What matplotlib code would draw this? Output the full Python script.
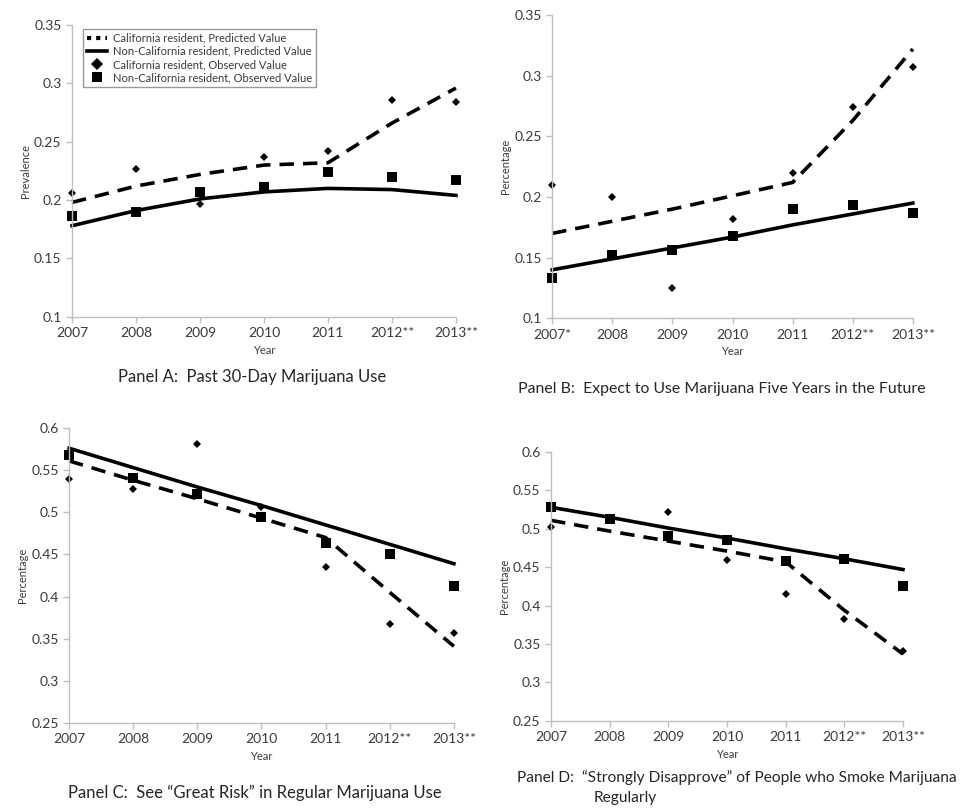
import numpy as np
import matplotlib.pyplot as plt
from matplotlib.lines import Line2D

plt.rcParams['font.family'] = ['Lato', 'DejaVu Sans']

years = ["2007", "2008", "2009", "2010", "2011", "2012**", "2013**"]
years_b = ["2007*", "2008", "2009", "2010", "2011", "2012**", "2013**"]

# Panel A: past 30-day use
a_ca_obs = [0.206, 0.227, 0.197, 0.237, 0.242, 0.286, 0.284]
a_non_obs = [0.186, 0.190, 0.207, 0.211, 0.224, 0.220, 0.217]
a_ca_pred = [0.198, 0.212, 0.222, 0.230, 0.232, 0.266, 0.296]
a_non_pred = [0.178, 0.191, 0.201, 0.207, 0.210, 0.209, 0.204]

# Panel B: expect to use in five years
b_ca_obs = [0.210, 0.200, 0.125, 0.182, 0.220, 0.274, 0.307]
b_non_obs = [0.133, 0.152, 0.156, 0.168, 0.190, 0.193, 0.187]
b_ca_pred = [0.170, 0.180, 0.190, 0.201, 0.212, 0.263, 0.322]
b_non_pred = [0.140, 0.149, 0.158, 0.167, 0.177, 0.186, 0.195]

# Panel C: great risk
c_ca_obs = [0.539, 0.528, 0.581, 0.506, 0.435, 0.368, 0.357]
c_non_obs = [0.568, 0.541, 0.522, 0.494, 0.463, 0.451, 0.412]
c_ca_pred = [0.561, 0.538, 0.516, 0.493, 0.470, 0.405, 0.341]
c_non_pred = [0.576, 0.553, 0.530, 0.508, 0.485, 0.462, 0.439]

# Panel D: strongly disapprove
d_ca_obs = [0.502, 0.513, 0.522, 0.460, 0.415, 0.383, 0.341]
d_non_obs = [0.529, 0.513, 0.490, 0.485, 0.458, 0.461, 0.425]
d_ca_pred = [0.511, 0.497, 0.484, 0.471, 0.457, 0.394, 0.337]
d_non_pred = [0.528, 0.515, 0.501, 0.488, 0.474, 0.461, 0.447]

fig = plt.figure(figsize=(9.67, 8.1), dpi=100)

gray = '#bfbfbf'
txt = '#3a3a3a'


def panel(rect, ca_obs, non_obs, ca_pred, non_pred, labels, ylim, yticks, ylabel):
    ax = fig.add_axes(rect)
    x = np.arange(len(labels))
    ax.plot(x, ca_pred, color='black', lw=2.6, dashes=(4, 2.5))
    ax.plot(x, non_pred, color='black', lw=2.6)
    ax.plot(x, ca_obs, 'D', color='black', ms=4.5, mew=0)
    ax.plot(x, non_obs, 's', color='black', ms=6.5, mew=0)
    ax.set_xlim(0, len(labels) - 1)
    ax.set_ylim(*ylim)
    ax.set_xticks(x)
    ax.set_xticklabels(labels)
    ax.set_yticks(yticks)
    ax.set_yticklabels([('%.2f' % v).rstrip('0').rstrip('.') for v in yticks])
    for s in ['top', 'right']:
        ax.spines[s].set_visible(False)
    for s in ['left', 'bottom']:
        ax.spines[s].set_color(gray)
        ax.spines[s].set_linewidth(1.0)
    ax.tick_params(colors=gray, labelcolor=txt, labelsize=10, length=4, width=1)
    ax.set_xlabel('Year', fontsize=8, color=txt, labelpad=4)
    ax.set_ylabel(ylabel, fontsize=8, color=txt, labelpad=2)
    for ln in ax.lines:
        ln.set_clip_on(False)
    return ax


axA = panel([0.0745, 0.609, 0.397, 0.36], a_ca_obs, a_non_obs, a_ca_pred, a_non_pred,
            years, (0.1, 0.35), np.arange(0.1, 0.351, 0.05), 'Prevalence')
axB = panel([0.571, 0.607, 0.373, 0.3745], b_ca_obs, b_non_obs, b_ca_pred, b_non_pred,
            years_b, (0.1, 0.35), np.arange(0.1, 0.351, 0.05), 'Percentage')
axC = panel([0.0714, 0.1074, 0.398, 0.3642], c_ca_obs, c_non_obs, c_ca_pred, c_non_pred,
            years, (0.25, 0.6), np.arange(0.25, 0.601, 0.05), 'Percentage')
axD = panel([0.5698, 0.110, 0.364, 0.332], d_ca_obs, d_non_obs, d_ca_pred, d_non_pred,
            years, (0.25, 0.6), np.arange(0.25, 0.601, 0.05), 'Percentage')

handles = [
    Line2D([], [], color='black', lw=3, dashes=(1, 1.2)),
    Line2D([], [], color='black', lw=2.6),
    Line2D([], [], color='black', marker='D', ls='none', ms=6, mew=0),
    Line2D([], [], color='black', marker='s', ls='none', ms=6.5, mew=0),
]
names = ['California resident, Predicted Value',
         'Non-California resident, Predicted Value',
         'California resident, Observed Value',
         'Non-California resident, Observed Value']
leg = axA.legend(handles, names, loc='upper left', bbox_to_anchor=(0.015, 1.005),
                 fontsize=8, frameon=True, fancybox=False, handlelength=1.8,
                 handletextpad=0.6, borderpad=0.3, labelspacing=0.2,
                 labelcolor=txt)
leg.get_frame().set_edgecolor('#808080')
leg.get_frame().set_linewidth(1.0)

tc = '#262626'
fig.text(0.261, 1 - 377 / 810, 'Panel A:  Past 30-Day Marijuana Use',
         ha='center', va='center', fontsize=12, color=tc)
fig.text(0.746, 1 - 389 / 810, 'Panel B:  Expect to Use Marijuana Five Years in the Future',
         ha='center', va='center', fontsize=11.4, color=tc)
fig.text(0.264, 1 - 793 / 810, 'Panel C:  See \u201cGreat Risk\u201d in Regular Marijuana Use',
         ha='center', va='center', fontsize=12, color=tc)
fig.text(0.535, 1 - 778 / 810, 'Panel D:  \u201cStrongly Disapprove\u201d of People who Smoke Marijuana',
         ha='left', va='center', fontsize=11.2, color=tc)
fig.text(0.614, 1 - 798 / 810, 'Regularly', ha='left', va='center', fontsize=11.2, color=tc)

fig.savefig('out.png', dpi=100, facecolor='white')
